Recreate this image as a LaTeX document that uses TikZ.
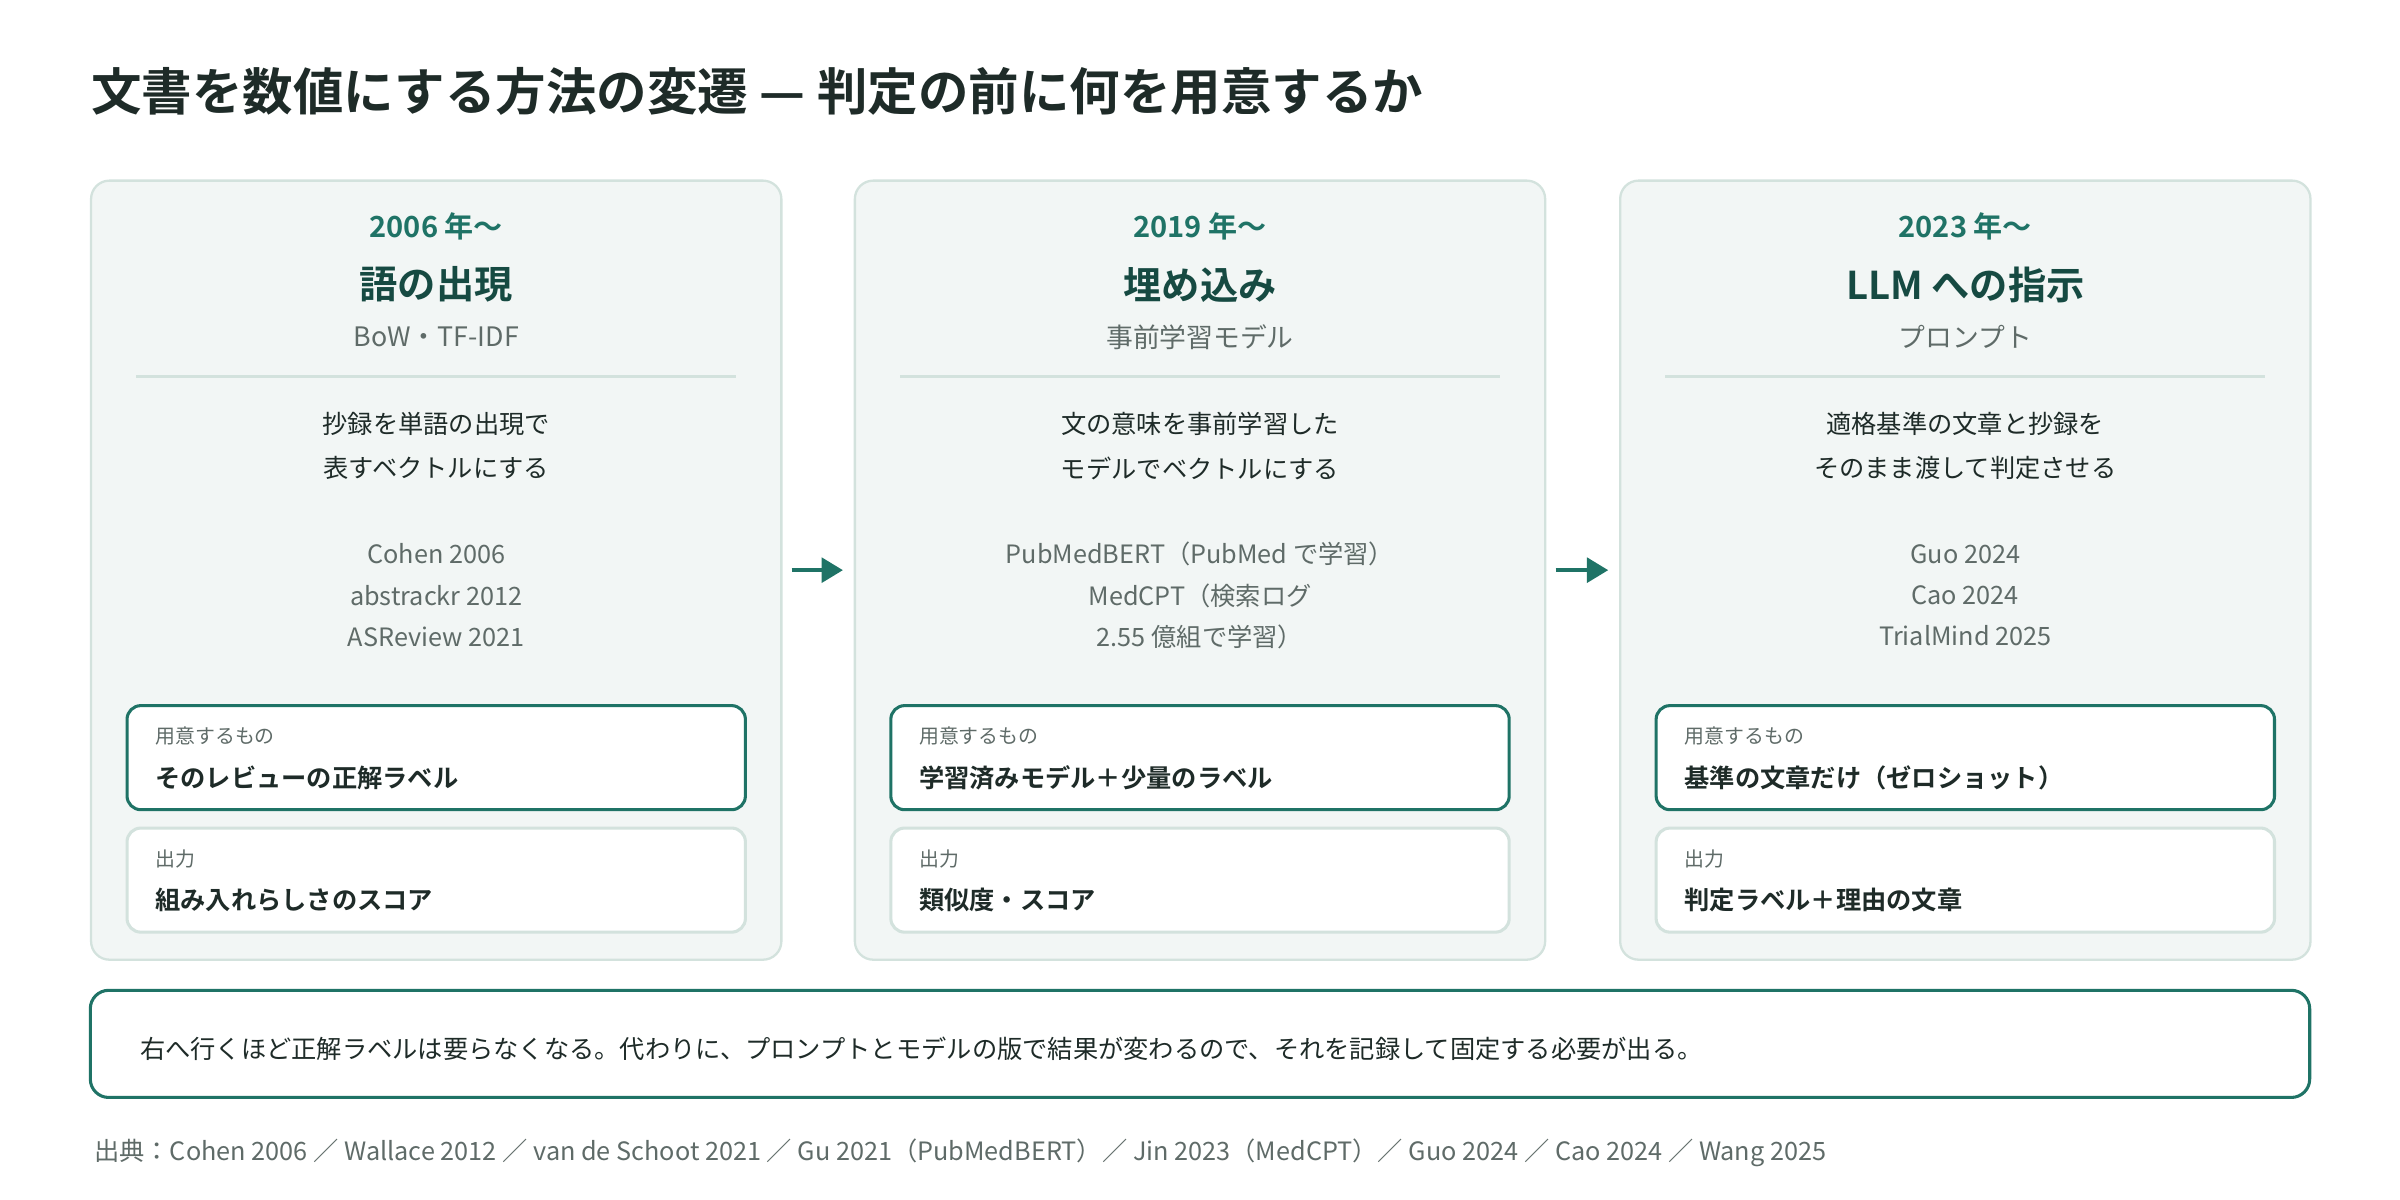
\documentclass[tikz,border=0pt]{standalone}
\usepackage{fontspec}
\setmainfont{Noto Sans CJK JP}[BoldFont={Noto Sans CJK JP Bold}]
\usetikzlibrary{positioning, arrows.meta}
\definecolor{teal}{HTML}{1F7366}
\definecolor{deep}{HTML}{164A42}
\definecolor{ink}{HTML}{1E2B28}
\definecolor{gray}{HTML}{5F6B68}
\definecolor{panelbg}{HTML}{F2F6F5}
\definecolor{panelln}{HTML}{D3E2DD}
\tikzset{
  panel/.style = {draw = panelln, line width = 1.5pt, fill = panelbg, rounded corners = 12pt,
    minimum width = 451pt, minimum height = 509pt, inner sep = 0pt},
  need/.style = {draw = teal, line width = 2pt, fill = white, rounded corners = 9pt,
    minimum width = 404pt, minimum height = 68pt, inner sep = 0pt},
  outbox/.style = {draw = panelln, line width = 2pt, fill = white, rounded corners = 9pt,
    minimum width = 404pt, minimum height = 68pt, inner sep = 0pt},
  small/.style = {font = \fontsize{13}{16}\selectfont, text = gray, anchor = west},
  strong/.style = {font = \fontsize{16.5}{20}\selectfont\bfseries, text = ink, anchor = west},
  arr/.style = {-{Triangle[length=14pt,width=16pt]}, draw = teal, line width = 3pt}
}
% one stage: x, year, heading, sub, desc1, desc2, refs, need, output
\newcommand{\stage}[9]{
  \node[panel] (p#1) at (#1, 372.5) {};
  \node[font = \fontsize{19}{22}\selectfont\bfseries, text = teal] (y#1) at (#1, 148) {#2};
  \node[font = \fontsize{25}{28}\selectfont\bfseries, text = deep] (h#1) at (#1, 186) {#3};
  \node[font = \fontsize{17.5}{20}\selectfont, text = gray] (s#1) at (#1, 220) {#4};
  \draw[panelln, line width = 1.5pt] (#1-196, 246) -- (#1+196, 246);
  \node[font = \fontsize{16.5}{29}\selectfont, text = ink, align = center] (d#1) at (#1, 291.5) {#5\\#6};
  \node[font = \fontsize{16.5}{27}\selectfont, text = gray, align = center] (r#1) at (#1, 389) {#7};
  \node[need] (n#1) at (#1, 495) {};
  \node[small] at (#1-187, 481) {用意するもの};
  \node[strong] at (#1-187, 508) {#8};
  \node[outbox] (o#1) at (#1, 575) {};
  \node[small] at (#1-187, 561) {出力};
  \node[strong] at (#1-187, 588) {#9};
}
\begin{document}
\begin{tikzpicture}[x = 1pt, y = -1pt]
\useasboundingbox (0, 0) rectangle (1568, 784);
\node[anchor = west, font = \fontsize{33}{38}\selectfont\bfseries, text = ink] (title) at (56, 60)
  {文書を数値にする方法の変遷 — 判定の前に何を用意するか};

\stage{285}{2006 年〜}{語の出現}{BoW・TF-IDF}{抄録を単語の出現で}{表すベクトルにする}
  {Cohen 2006\\abstrackr 2012\\ASReview 2021}{そのレビューの正解ラベル}{組み入れらしさのスコア}
\stage{784}{2019 年〜}{埋め込み}{事前学習モデル}{文の意味を事前学習した}{モデルでベクトルにする}
  {PubMedBERT（PubMed で学習）\\MedCPT（検索ログ\\2.55 億組で学習）}{学習済みモデル＋少量のラベル}{類似度・スコア}
\stage{1284}{2023 年〜}{LLM への指示}{プロンプト}{適格基準の文章と抄録を}{そのまま渡して判定させる}
  {Guo 2024\\Cao 2024\\TrialMind 2025}{基準の文章だけ（ゼロショット）}{判定ラベル＋理由の文章}

\draw[arr, shorten < = 6pt, shorten > = 7pt] (p285) -- (p784);
\draw[arr, shorten < = 6pt, shorten > = 7pt] (p784) -- (p1284);

\node[draw = teal, line width = 2pt, fill = white, rounded corners = 12pt,
  minimum width = 1450pt, minimum height = 70pt] (note) at (784, 682) {};
\node[anchor = west, font = \fontsize{16.5}{20}\selectfont, text = ink] (notetext) at (88, 685)
  {右へ行くほど正解ラベルは要らなくなる。代わりに、プロンプトとモデルの版で結果が変わるので、それを記録して固定する必要が出る。};
\node[anchor = west, font = \fontsize{16.5}{18}\selectfont, text = gray] (src) at (58, 753)
  {出典：Cohen 2006 ／ Wallace 2012 ／ van de Schoot 2021 ／ Gu 2021（PubMedBERT）／ Jin 2023（MedCPT）／ Guo 2024 ／ Cao 2024 ／ Wang 2025};
\end{tikzpicture}
\end{document}
